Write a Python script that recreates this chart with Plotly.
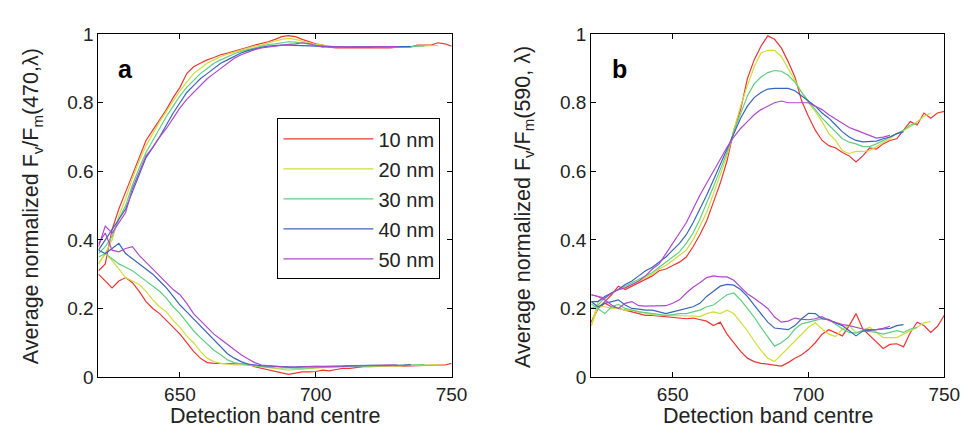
import plotly.graph_objects as go

# Detection band centre grid (nm), 2.5 nm steps
WAVELENGTH = [620 + 2.5 * i for i in range(53)]

BANDWIDTHS = ["10 nm", "20 nm", "30 nm", "40 nm", "50 nm"]
COLORS = ["#ee3535", "#cfdd3a", "#5fcf80", "#3a64bb", "#ae48cc"]

# Panel a: rising curves
A_UP_10 = [0.31,0.33,0.43,0.49,0.54,0.59,0.64,0.69,0.72,0.75,
           0.78,0.815,0.845,0.885,0.905,0.915,0.925,0.932,0.94,0.945,
           0.95,0.955,0.962,0.968,0.972,0.978,0.985,0.993,0.996,0.993,
           0.985,0.978,0.972,0.968,0.962,0.96,0.96,0.958,0.96,0.958,
           0.96,0.96,0.958,0.96,0.962,0.962,0.963,0.968,0.968,0.968,
           0.975,0.972,0.965]
A_UP_20 = [0.33,0.36,0.40,0.47,0.52,0.58,0.63,0.675,0.71,0.745,
           0.775,0.805,0.835,0.86,0.885,0.9,0.915,0.925,0.935,0.942,
           0.948,0.953,0.96,0.965,0.968,0.975,0.98,0.985,0.988,0.985,
           0.98,0.975,0.97,0.968,0.965,0.963,0.962,0.962,0.963,0.962,
           0.963,0.962,0.962,0.963,0.963,0.964,0.963,0.965,0.966,0.966,
           0.967]
A_UP_30 = [0.36,0.38,0.41,0.46,0.50,0.56,0.61,0.655,0.69,0.725,
           0.76,0.79,0.82,0.845,0.865,0.885,0.9,0.915,0.925,0.935,
           0.943,0.95,0.955,0.96,0.965,0.97,0.972,0.975,0.978,0.977,
           0.975,0.972,0.968,0.965,0.963,0.962,0.962,0.961,0.962,0.962,
           0.961,0.962,0.962,0.962,0.963,0.963,0.964,0.965,0.966]
A_UP_40 = [0.37,0.40,0.43,0.46,0.49,0.54,0.59,0.64,0.67,0.70,
           0.735,0.77,0.80,0.83,0.85,0.87,0.885,0.9,0.915,0.925,
           0.935,0.945,0.952,0.958,0.962,0.965,0.967,0.968,0.968,0.968,
           0.967,0.966,0.965,0.964,0.963,0.963,0.962,0.962,0.963,0.962,
           0.962,0.963,0.963,0.962,0.963,0.964,0.964]
A_UP_50 = [0.38,0.44,0.42,0.45,0.48,0.55,0.60,0.645,0.67,0.70,
           0.725,0.755,0.785,0.81,0.83,0.85,0.87,0.885,0.9,0.915,
           0.93,0.94,0.948,0.955,0.96,0.963,0.965,0.968,0.97,0.972,
           0.975,0.972,0.966,0.962,0.963,0.962,0.963,0.963,0.962,0.963,
           0.963,0.963,0.962,0.963,0.964]

# Panel a: falling curves
A_DOWN_10 = [0.30,0.28,0.26,0.28,0.29,0.275,0.25,0.22,0.20,0.185,
             0.165,0.145,0.125,0.10,0.075,0.055,0.042,0.04,0.04,0.04,
             0.04,0.04,0.038,0.03,0.025,0.02,0.015,0.012,0.008,0.012,
             0.015,0.015,0.016,0.02,0.018,0.022,0.025,0.025,0.028,0.03,
             0.03,0.031,0.03,0.032,0.033,0.032,0.033,0.034,0.034,0.035,
             0.035,0.035,0.04]
A_DOWN_20 = [0.33,0.36,0.34,0.315,0.29,0.28,0.27,0.25,0.225,0.205,
             0.19,0.165,0.145,0.12,0.10,0.075,0.055,0.045,0.04,0.038,
             0.035,0.035,0.035,0.033,0.03,0.028,0.025,0.022,0.02,0.022,
             0.022,0.025,0.025,0.027,0.028,0.03,0.03,0.03,0.031,0.03,
             0.031,0.032,0.032,0.033,0.033,0.034,0.034,0.034,0.035,0.035,
             0.036]
A_DOWN_30 = [0.35,0.36,0.345,0.33,0.32,0.31,0.295,0.28,0.265,0.25,
             0.23,0.205,0.185,0.16,0.135,0.115,0.095,0.078,0.065,0.05,
             0.042,0.038,0.035,0.033,0.03,0.028,0.027,0.026,0.025,0.026,
             0.026,0.027,0.027,0.028,0.029,0.03,0.03,0.031,0.031,0.032,
             0.032,0.033,0.033,0.034,0.034,0.034,0.035,0.035,0.036]
A_DOWN_40 = [0.37,0.36,0.375,0.39,0.36,0.345,0.33,0.315,0.30,0.28,
             0.26,0.235,0.21,0.19,0.17,0.15,0.13,0.11,0.09,0.068,
             0.055,0.045,0.038,0.035,0.033,0.032,0.031,0.03,0.03,0.029,
             0.03,0.03,0.03,0.031,0.031,0.032,0.032,0.033,0.033,0.033,
             0.034,0.034,0.034,0.035,0.035,0.035,0.036]
A_DOWN_50 = [0.39,0.42,0.37,0.365,0.375,0.38,0.355,0.335,0.315,0.295,
             0.275,0.255,0.24,0.215,0.185,0.165,0.145,0.125,0.11,0.095,
             0.08,0.065,0.053,0.042,0.035,0.033,0.031,0.03,0.028,0.029,
             0.03,0.03,0.031,0.03,0.031,0.032,0.032,0.032,0.033,0.033,
             0.034,0.034,0.034,0.035,0.035]

# Panel b: rising curves
B_UP_10 = [0.16,0.2,0.22,0.24,0.265,0.255,0.265,0.275,0.285,0.295,
           0.31,0.315,0.325,0.335,0.35,0.38,0.415,0.455,0.51,0.565,
           0.63,0.72,0.78,0.87,0.925,0.965,0.995,0.985,0.96,0.92,
           0.875,0.805,0.76,0.72,0.69,0.675,0.668,0.655,0.645,0.627,
           0.645,0.668,0.665,0.68,0.69,0.695,0.72,0.745,0.735,0.77,
           0.755,0.77,0.775]
B_UP_20 = [0.15,0.22,0.23,0.245,0.255,0.26,0.27,0.28,0.29,0.3,
           0.315,0.325,0.34,0.355,0.37,0.4,0.44,0.48,0.535,0.59,
           0.645,0.72,0.79,0.85,0.905,0.945,0.953,0.953,0.935,0.9,
           0.865,0.83,0.8,0.775,0.745,0.71,0.69,0.66,0.652,0.658,
           0.658,0.66,0.672,0.685,0.695,0.71,0.72,0.73,0.745,0.76,
           0.77]
B_UP_30 = [0.2,0.21,0.23,0.245,0.255,0.265,0.275,0.285,0.295,0.305,
           0.32,0.335,0.35,0.365,0.39,0.42,0.46,0.505,0.555,0.605,
           0.655,0.715,0.77,0.82,0.855,0.875,0.888,0.894,0.892,0.88,
           0.86,0.83,0.805,0.78,0.755,0.735,0.715,0.695,0.685,0.68,
           0.672,0.672,0.68,0.69,0.70,0.71,0.72,0.735,0.74]
B_UP_40 = [0.22,0.22,0.235,0.245,0.255,0.27,0.28,0.295,0.31,0.32,
           0.335,0.35,0.37,0.39,0.415,0.45,0.49,0.53,0.575,0.62,
           0.665,0.71,0.755,0.79,0.815,0.83,0.84,0.842,0.842,0.842,
           0.835,0.82,0.805,0.79,0.77,0.755,0.735,0.715,0.7,0.69,
           0.686,0.686,0.688,0.695,0.70,0.71,0.715]
B_UP_50 = [0.24,0.235,0.23,0.245,0.255,0.26,0.27,0.28,0.295,0.315,
           0.33,0.36,0.39,0.42,0.45,0.49,0.53,0.565,0.6,0.635,
           0.67,0.7,0.725,0.745,0.765,0.78,0.79,0.8,0.805,0.8,
           0.8,0.8,0.8,0.79,0.78,0.765,0.752,0.74,0.728,0.72,
           0.712,0.705,0.697,0.7,0.705]

# Panel b: lower curves
B_DOWN_10 = [0.16,0.2,0.215,0.205,0.2,0.195,0.19,0.185,0.18,0.18,
             0.178,0.176,0.175,0.172,0.17,0.172,0.168,0.163,0.15,0.16,
             0.125,0.1,0.075,0.055,0.045,0.04,0.038,0.035,0.032,0.042,
             0.055,0.065,0.08,0.1,0.125,0.138,0.13,0.12,0.15,0.185,
             0.14,0.12,0.1,0.083,0.095,0.097,0.088,0.13,0.16,0.15,
             0.13,0.148,0.18]
B_DOWN_20 = [0.148,0.205,0.205,0.2,0.2,0.195,0.195,0.19,0.185,0.182,
             0.18,0.18,0.18,0.18,0.178,0.178,0.176,0.185,0.19,0.185,
             0.195,0.185,0.16,0.135,0.105,0.078,0.055,0.045,0.065,0.085,
             0.105,0.125,0.145,0.158,0.14,0.125,0.118,0.14,0.15,0.13,
             0.135,0.145,0.13,0.115,0.115,0.115,0.125,0.135,0.145,0.158,
             0.162]
B_DOWN_30 = [0.213,0.2,0.185,0.205,0.212,0.2,0.195,0.19,0.188,0.185,
             0.182,0.18,0.182,0.185,0.185,0.19,0.195,0.205,0.21,0.225,
             0.24,0.245,0.225,0.2,0.175,0.145,0.118,0.09,0.1,0.115,
             0.14,0.155,0.16,0.165,0.17,0.168,0.155,0.14,0.13,0.128,
             0.135,0.133,0.13,0.125,0.13,0.135,0.13,0.14,0.144]
B_DOWN_40 = [0.22,0.205,0.215,0.22,0.225,0.21,0.2,0.198,0.195,0.195,
             0.19,0.185,0.19,0.195,0.2,0.205,0.215,0.235,0.25,0.265,
             0.27,0.268,0.255,0.235,0.21,0.185,0.16,0.143,0.14,0.138,
             0.15,0.17,0.186,0.185,0.17,0.167,0.158,0.15,0.135,0.12,
             0.134,0.135,0.138,0.14,0.142,0.15,0.153]
B_DOWN_50 = [0.24,0.235,0.225,0.21,0.2,0.215,0.22,0.208,0.207,0.207,
             0.206,0.208,0.215,0.225,0.245,0.262,0.275,0.29,0.295,0.292,
             0.292,0.282,0.262,0.243,0.23,0.215,0.2,0.175,0.16,0.163,
             0.172,0.168,0.167,0.17,0.176,0.165,0.158,0.153,0.15,0.145,
             0.14,0.138,0.138,0.142,0.148]

X_TICKS = [650, 700, 750]
Y_TICKS = [0, 0.2, 0.4, 0.6, 0.8, 1]

A_UP = [A_UP_10, A_UP_20, A_UP_30, A_UP_40, A_UP_50]
A_DOWN = [A_DOWN_10, A_DOWN_20, A_DOWN_30, A_DOWN_40, A_DOWN_50]
B_UP = [B_UP_10, B_UP_20, B_UP_30, B_UP_40, B_UP_50]
B_DOWN = [B_DOWN_10, B_DOWN_20, B_DOWN_30, B_DOWN_40, B_DOWN_50]

FONT = "Liberation Sans, Arial, Helvetica, sans-serif"
W, H = 969, 440

fig = go.Figure()
for i, name in enumerate(BANDWIDTHS):
    for panel, groups in (("a", (A_UP, A_DOWN)), ("b", (B_UP, B_DOWN))):
        for k, grp in enumerate(groups):
            ys = grp[i]
            fig.add_trace(go.Scatter(
                x=WAVELENGTH[:len(ys)], y=ys, mode="lines",
                name=name, legendgroup=name,
                showlegend=(panel == "a" and k == 0),
                line=dict(color=COLORS[i], width=1.2),
                xaxis="x" if panel == "a" else "x2",
                yaxis="y" if panel == "a" else "y2",
            ))

def px_x(p):
    return p / W

def px_y(p):
    return 1 - p / H

ydom = [px_y(377), px_y(17)]
axis_common = dict(
    showgrid=False, zeroline=False, showline=True, linecolor="black",
    linewidth=1, mirror="ticks", ticks="inside", ticklen=5,
    tickcolor="black", tickfont=dict(family=FONT, size=19, color="#222"),
    ticklabeloverflow="allow",
)
fig.update_layout(
    width=W, height=H,
    paper_bgcolor="white", plot_bgcolor="white",
    margin=dict(l=0, r=0, t=0, b=0),
    font=dict(family=FONT, color="#222"),
    xaxis=dict(domain=[px_x(92), px_x(451)], range=[620, 750],
               tickvals=X_TICKS, anchor="y", **axis_common),
    yaxis=dict(domain=ydom, range=[0, 1], tickvals=Y_TICKS, anchor="x",
               **axis_common),
    xaxis2=dict(domain=[px_x(593), px_x(952)], range=[620, 750],
                tickvals=X_TICKS, anchor="y2", **axis_common),
    yaxis2=dict(domain=ydom, range=[0, 1], tickvals=Y_TICKS, anchor="x2",
                **axis_common),
    showlegend=True,
    legend=dict(
        x=px_x(274), y=px_y(105.5), xanchor="left", yanchor="top",
        bgcolor="white", bordercolor="black", borderwidth=1,
        font=dict(family=FONT, size=20, color="#222"),
        traceorder="grouped", tracegroupgap=1, itemwidth=90,
    ),
)

annotations = [
    dict(text="<b>a</b>", x=px_x(119), y=px_y(54)),
    dict(text="<b>b</b>", x=px_x(622), y=px_y(54)),
]
for a in annotations:
    a.update(xref="paper", yref="paper", showarrow=False,
             xanchor="center", yanchor="middle",
             font=dict(family=FONT, size=25, color="black"))
TITLE_FONT = dict(family=FONT, size=21.5, color="#222")
annotations += [
    dict(text="Detection band centre", x=px_x(271.5), y=px_y(418)),
    dict(text="Detection band centre", x=px_x(772.5), y=px_y(418)),
    dict(text="Average normalized F<sub>v</sub>/F<sub>m</sub>(470,λ)",
         x=px_x(25), y=px_y(198), textangle=-90),
    dict(text="Average normalized F<sub>v</sub>/F<sub>m</sub>(590, λ)",
         x=px_x(525), y=px_y(198), textangle=-90),
]
for a in annotations[2:]:
    a.update(xref="paper", yref="paper", showarrow=False,
             xanchor="center", yanchor="middle", font=TITLE_FONT)
fig.update_layout(annotations=annotations)

fig.write_html("out.html")
